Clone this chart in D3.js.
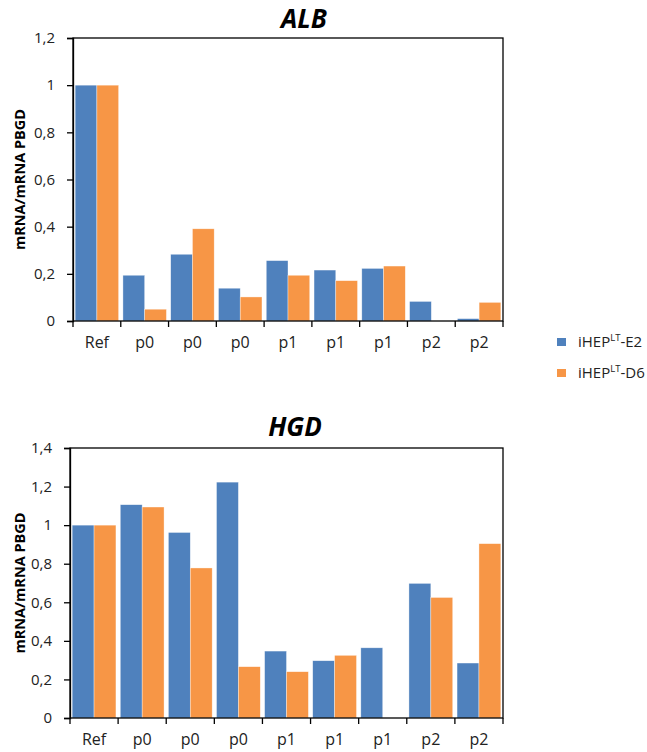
<!DOCTYPE html>
<html>
<head>
<meta charset="utf-8">
<script src="https://cdn.jsdelivr.net/npm/d3@7"></script>
<style>
  body { margin: 0; background: #fff; }
  text { font-family: "Open Sans", "Liberation Sans", sans-serif; }
</style>
</head>
<body>
<script>
(function(){

//categories and series
var categories = ["Ref", "p0", "p0", "p0", "p1", "p1", "p1", "p2", "p2"];
var seriesNames = ["E2", "D6"];
var colors = ["#4F81BD", "#F79646"];

var albE2 = [1, 0.194, 0.283, 0.139, 0.256, 0.216, 0.223, 0.083, 0.01];
var albD6 = [1, 0.05, 0.391, 0.102, 0.194, 0.171, 0.233, 0, 0.079];
var hgdE2 = [1, 1.106, 0.962, 1.223, 0.347, 0.297, 0.364, 0.698, 0.285];
var hgdD6 = [1, 1.094, 0.778, 0.266, 0.240, 0.325, 0, 0.625, 0.904];

var albTicks = [0, 0.2, 0.4, 0.6, 0.8, 1, 1.2];
var hgdTicks = [0, 0.2, 0.4, 0.6, 0.8, 1, 1.2, 1.4];

var width = 647, height = 752;

var svg = d3.select("body")
  .append("svg")
  .attr("width", width)
  .attr("height", height);

//draw one panel
function drawPanel(title, e2, d6, ticks, box, titleX, titleY){
  var g = svg.append("g");

  var x = d3.scaleBand()
    .domain(d3.range(categories.length))
    .range([box.left, box.right])
    .paddingInner(0.09)
    .paddingOuter(0.045);

  var x1 = d3.scaleBand()
    .domain(seriesNames)
    .range([0, x.bandwidth()]);

  var y = d3.scaleLinear()
    .domain([0, d3.max(ticks)])
    .range([box.bottom, box.top]);

  //bars
  var rows = categories.map(function(c, i){
    return [{s: 0, v: e2[i], i: i}, {s: 1, v: d6[i], i: i}];
  });
  g.selectAll(".grp")
    .data(rows)
    .enter()
    .append("g")
    .selectAll("rect")
    .data(function(d){ return d.filter(function(b){ return b.v > 0; }); })
    .enter()
    .append("rect")
    .attr("x", function(d){ return x(d.i) + x1(seriesNames[d.s]); })
    .attr("y", function(d){ return y(d.v); })
    .attr("width", x1.bandwidth())
    .attr("height", function(d){ return y(0) - y(d.v); })
    .attr("fill", function(d){ return colors[d.s]; })
    .attr("stroke", "#fff")
    .attr("stroke-opacity", 0.6)
    .attr("stroke-width", 0.6);

  //frame
  g.append("rect")
    .attr("x", box.left)
    .attr("y", box.top)
    .attr("width", box.right - box.left)
    .attr("height", box.bottom - box.top)
    .attr("fill", "none")
    .attr("stroke", "#000")
    .attr("stroke-width", 1.3);

  //y axis
  var yAxis = d3.axisLeft(y)
    .tickValues(ticks)
    .tickSize(6)
    .tickPadding(12)
    .tickFormat(function(d){ return String(d).replace(".", ","); });
  var ya = g.append("g")
    .attr("transform", "translate(" + box.left + ",0)")
    .call(yAxis);
  ya.select(".domain").attr("stroke-width", 1.3);
  ya.selectAll(".tick line").attr("stroke-width", 1.3);
  ya.selectAll("text").attr("font-size", 15).attr("fill", "#222");

  //x axis ticks at category boundaries
  var bounds = d3.range(categories.length + 1).map(function(i){
    return box.left + i * (box.right - box.left) / categories.length;
  });
  g.selectAll(".xt")
    .data(bounds)
    .enter()
    .append("line")
    .attr("x1", function(d){ return d; })
    .attr("x2", function(d){ return d; })
    .attr("y1", box.bottom)
    .attr("y2", box.bottom + 6)
    .attr("stroke", "#000")
    .attr("stroke-width", 1.3);

  g.selectAll(".xl")
    .data(categories)
    .enter()
    .append("text")
    .attr("x", function(d, i){ return (bounds[i] + bounds[i + 1]) / 2; })
    .attr("y", box.bottom + 27)
    .attr("text-anchor", "middle")
    .attr("font-size", 16)
    .attr("fill", "#222")
    .text(function(d){ return d; });

  //title
  g.append("text")
    .attr("x", titleX)
    .attr("y", titleY)
    .attr("text-anchor", "middle")
    .attr("font-size", 26)
    .attr("font-weight", "bold")
    .attr("font-style", "italic")
    .attr("fill", "#000")
    .text(title);

  //y label
  g.append("text")
    .attr("transform", "translate(20," + ((box.top + box.bottom) / 2) + ") rotate(-90)")
    .attr("dy", "0.35em")
    .attr("text-anchor", "middle")
    .attr("font-size", 14.5)
    .attr("font-weight", "bold")
    .attr("fill", "#000")
    .text("mRNA/mRNA PBGD");
}

drawPanel("ALB", albE2, albD6, albTicks, {left: 73, right: 503, top: 38, bottom: 321}, 304, 28);
drawPanel("HGD", hgdE2, hgdD6, hgdTicks, {left: 70, right: 503, top: 448, bottom: 718}, 295, 436);

//legend
var legend = svg.append("g");
var legendSuffix = ["-E2", "-D6"];
legendSuffix.forEach(function(sfx, i){
  var ly = 342 + i * 31;
  legend.append("rect")
    .attr("x", 557)
    .attr("y", ly - 4)
    .attr("width", 9)
    .attr("height", 8)
    .attr("fill", colors[i]);
  var t = legend.append("text")
    .attr("x", 578)
    .attr("y", ly + 5)
    .attr("font-size", 15)
    .attr("fill", "#222");
  t.append("tspan").text("iHEP");
  t.append("tspan").attr("font-size", 9.5).attr("dy", -6).text("LT");
  t.append("tspan").attr("dy", 6).text(sfx);
});

})();
</script>
</body>
</html>
